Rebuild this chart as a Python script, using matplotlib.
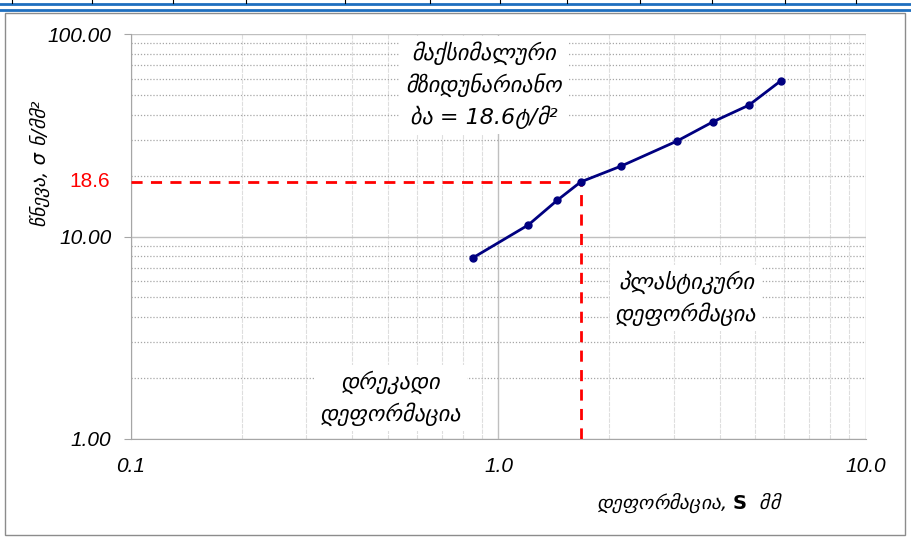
import matplotlib
matplotlib.use("Agg")
import matplotlib.pyplot as plt
from matplotlib.lines import Line2D
from matplotlib.patches import Rectangle
from matplotlib.ticker import FixedLocator, NullFormatter, LogLocator

# deformation S (mm) and stress (N/mm2)
deformation = [0.85, 1.205, 1.445, 1.674, 2.16, 3.06, 3.84, 4.80, 5.87]
stress = [7.83, 11.4, 15.1, 18.6, 22.3, 29.6, 36.9, 44.5, 58.8]
yield_s = 1.674
yield_stress = 18.6

x_ticks = [0.1, 1.0, 10.0]
x_tick_labels = ["0.1", "1.0", "10.0"]
y_ticks = [1.0, 10.0, 100.0]
y_tick_labels = ["1.00", "10.00", "100.00"]

plt.rcParams['font.family'] = ['Liberation Sans', 'DejaVu Sans']
geo = ['DejaVu Sans']

fig = plt.figure(figsize=(9.11, 5.41), dpi=100)
ax = fig.add_axes([131/911, 1-439/541, (866-131)/911, (439-34)/541])
ax.set_xscale('log')
ax.set_yscale('log')
ax.set_xlim(0.1, 10)
ax.set_ylim(1, 100)

# grid: solid majors, light minors, dotted horizontal minors
ax.xaxis.set_minor_locator(LogLocator(base=10, subs=range(2, 10)))
ax.yaxis.set_minor_locator(LogLocator(base=10, subs=range(2, 10)))
ax.xaxis.set_minor_formatter(NullFormatter())
ax.yaxis.set_minor_formatter(NullFormatter())
ax.grid(True, which='major', color='#bfbfbf', lw=1.0)
ax.grid(True, which='minor', axis='x', color='#dedede', lw=0.8, ls=(0, (4, 1)))
ax.grid(True, which='minor', axis='y', color='#a6a6a6', lw=0.9, ls=(0, (1, 1.5)))
ax.set_axisbelow(True)

ax.xaxis.set_major_locator(FixedLocator(x_ticks))
ax.set_xticklabels(x_tick_labels, fontsize=15, style='italic')
ax.yaxis.set_major_locator(FixedLocator(y_ticks))
ax.set_yticklabels(y_tick_labels, fontsize=15, style='italic')
ax.tick_params(axis='x', which='major', length=0, pad=13)
ax.tick_params(axis='y', which='major', length=5, color='#a6a6a6', pad=9)
ax.tick_params(which='minor', length=0)
for sp in ax.spines.values():
    sp.set_color('#a6a6a6')
ax.spines['top'].set_visible(False)
ax.spines['right'].set_visible(False)

# yield lines
ax.plot([0.1, yield_s], [yield_stress, yield_stress], color='red', lw=2, ls=(0, (4, 3)), zorder=3)
ax.plot([yield_s, yield_s], [1, yield_stress], color='red', lw=2, ls=(0, (4, 3)), zorder=3)

ax.plot(deformation, stress, color='#000080', lw=2, marker='o', ms=5, zorder=4)

ax.text(-0.028, yield_stress, "18.6", color='red', fontsize=15, ha='right', va='center',
        transform=ax.get_yaxis_transform())

box = dict(facecolor='white', edgecolor='none', pad=4)
ax.text(0.913, 56, "მაქსიმალური\nმზიდუნარიანო\nბა = 18.6ტ/მ²", fontsize=16, style='italic',
        family=geo, ha='center', va='center', linespacing=1.45, bbox=box, zorder=5)
ax.text(3.24, 4.97, "პლასტიკური\nდეფორმაცია", fontsize=16, style='italic',
        family=geo, ha='center', va='center', linespacing=1.45, bbox=box, zorder=5)
ax.text(0.51, 1.59, "დრეკადი\nდეფორმაცია", fontsize=16, style='italic',
        family=geo, ha='center', va='center', linespacing=1.45, bbox=box, zorder=5)

ax.set_ylabel("წნევა, σ ნ/მმ²", fontsize=14, style='italic', family=geo)
ax.yaxis.set_label_coords(-0.11, 0.68)
ax.set_xlabel(r"დეფორმაცია, $\mathbf{S}$  მმ", fontsize=14, style='italic', family=geo)
ax.xaxis.set_label_coords(0.76, -0.13)

# chart frame and table border above it
fig.add_artist(Rectangle((5/911, 6/541), 900/911, 522/541, transform=fig.transFigure,
                         fill=False, edgecolor='#8c8c8c', lw=1))
for y in (1-4/541, 1-10/541):
    fig.add_artist(Line2D([0, 1], [y, y], transform=fig.transFigure, color='#1f6fbf', lw=2))
for x in (12, 92, 173, 246, 345, 430, 500, 567, 640, 712, 785, 856):
    fig.add_artist(Line2D([x/911, x/911], [1-3/541, 1], transform=fig.transFigure, color='k', lw=0.8))

fig.savefig("out.png", dpi=100)
